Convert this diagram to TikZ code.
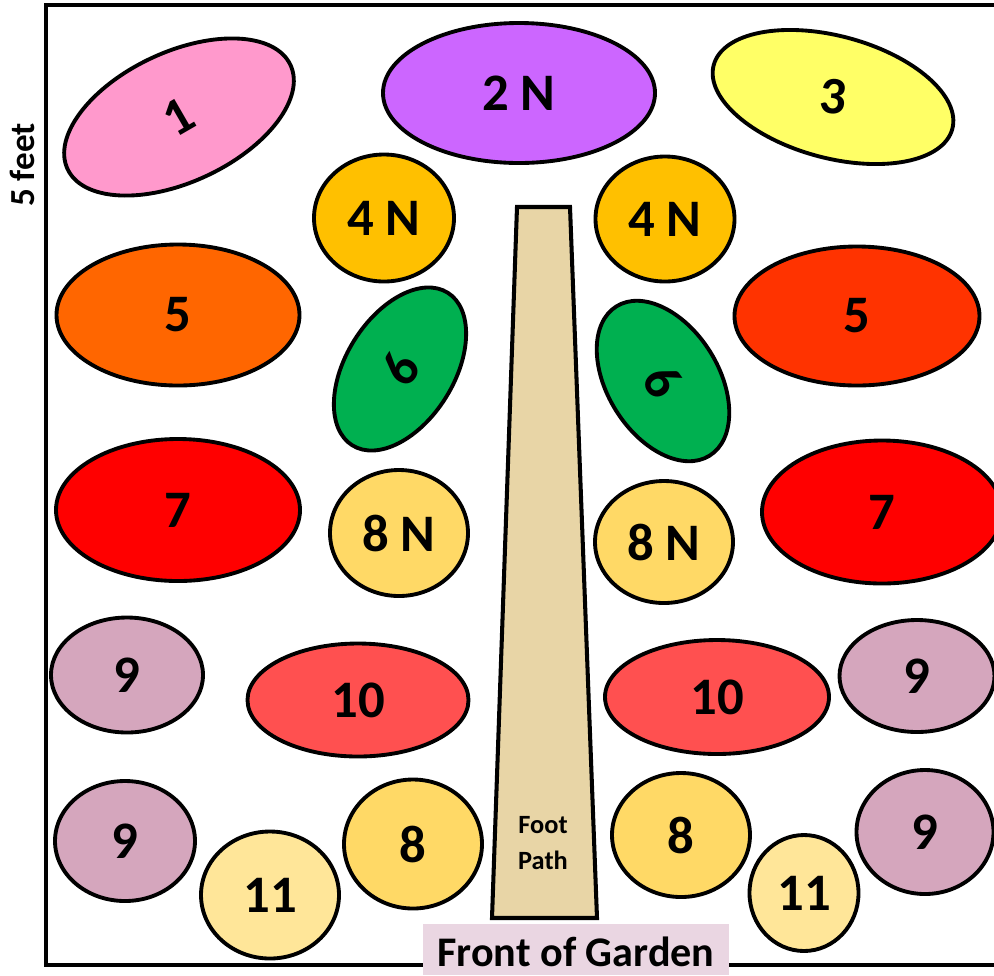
\documentclass[tikz,border=0pt]{standalone}
\usepackage{fontspec}
\setmainfont{Carlito}
\usetikzlibrary{shapes.geometric}

\definecolor{bedpink}{HTML}{FF99CC}
\definecolor{bedpurple}{HTML}{CC66FF}
\definecolor{bedyellow}{HTML}{FFFF66}
\definecolor{bedgold}{HTML}{FFC000}
\definecolor{bedorange}{HTML}{FF6600}
\definecolor{bedscarlet}{HTML}{FF3300}
\definecolor{bedgreen}{HTML}{00B050}
\definecolor{bedred}{HTML}{FF0000}
\definecolor{bedsand}{HTML}{FFD966}
\definecolor{bedmauve}{HTML}{D5A6BD}
\definecolor{bedcoral}{HTML}{FF5050}
\definecolor{bedpale}{HTML}{FFE699}
\definecolor{pathtan}{HTML}{E8D5A6}
\definecolor{frontpink}{HTML}{EAD6E2}

\begin{document}
\begin{tikzpicture}[
    x=0.02cm, y=-0.02cm,
    bed/.style={ellipse, draw, line width=2.2pt, inner sep=0pt, font=\fontsize{30}{36}\selectfont\bfseries},
    wh/.style 2 args={minimum width=#1*0.02cm, minimum height=#2*0.02cm},
    edge/.style={line width=2.3pt}
]
    \useasboundingbox (0,0) rectangle (994,975);
    \draw[edge] (46,5) rectangle (1010,965);

    % back row
    \node[bed, fill=bedpink, wh={246}{130}, rotate=25] (b1) at (179,117) {\rotatebox{5}{1}};
    \node[bed, fill=bedpurple, wh={272}{140}] (b2) at (519,93) {2 N};
    \node[bed, fill=bedyellow, wh={247}{122}, rotate=-15] (b3) at (833,97) {\rotatebox{10}{3}};

    % left side
    \node[bed, fill=bedgold, wh={140}{127}] (b4l) at (384,218) {4 N};
    \node[bed, fill=bedorange, wh={243}{141}] (b5l) at (178,315) {5};
    \node[bed, fill=bedgreen, wh={180}{108}, rotate=58] (b6l) at (400,369) {6};
    \node[bed, fill=bedred, wh={244}{142}] (b7l) at (178,510) {7};
    \node[bed, fill=bedsand, wh={138}{126}] (b8nl) at (399,533) {8 N};
    \node[bed, fill=bedmauve, wh={152}{115}] (b9a) at (127,675) {9};
    \node[bed, fill=bedcoral, wh={221}{113}] (b10l) at (358,700) {10};
    \node[bed, fill=bedmauve, wh={140}{120}] (b9c) at (125,841) {9};
    \node[bed, fill=bedsand, wh={138}{129}] (b8l) at (413,844) {8};
    \node[bed, fill=bedpale, wh={138}{127}] (b11l) at (270,895) {11};

    % right side
    \node[bed, fill=bedgold, wh={139}{125}] (b4r) at (665,219) {4 N};
    \node[bed, fill=bedscarlet, wh={245}{139}] (b5r) at (857,316) {5};
    \node[bed, fill=bedgreen, wh={176}{111}, rotate=-58] (b6r) at (663,381) {\rotatebox{3}{6}};
    \node[bed, fill=bedred, wh={240}{143}] (b7r) at (882,512) {7};
    \node[bed, fill=bedsand, wh={138}{122}] (b8nr) at (664,542) {8 N};
    \node[bed, fill=bedmauve, wh={155}{112}] (b9b) at (917,676) {9};
    \node[bed, fill=bedcoral, wh={224}{114}] (b10r) at (717,697) {10};
    \node[bed, fill=bedmauve, wh={137}{124}] (b9d) at (925,832) {9};
    \node[bed, fill=bedsand, wh={138}{124}] (b8r) at (681,835) {8};
    \node[bed, fill=bedpale, wh={109}{116}] (b11r) at (804,893) {11};

    % foot path
    \draw[edge, fill=pathtan] (517,207) -- (570,207) -- (597,918) -- (492,918) -- cycle;
    \node[align=center, font=\fontsize{15}{20}\selectfont\bfseries] (foot) at (543,843) {Foot\\Path};

    \node[fill=frontpink, anchor=base, inner sep=0pt, text height=0.84cm, text depth=0.18cm,
          minimum width=6.12cm, font=\fontsize{24}{28}\selectfont\bfseries] (front) at (576,966) {Front of Garden};
    \node[rotate=90, font=\fontsize{20}{24}\selectfont\bfseries] (depth) at (22,165) {5 feet};
\end{tikzpicture}
\end{document}
